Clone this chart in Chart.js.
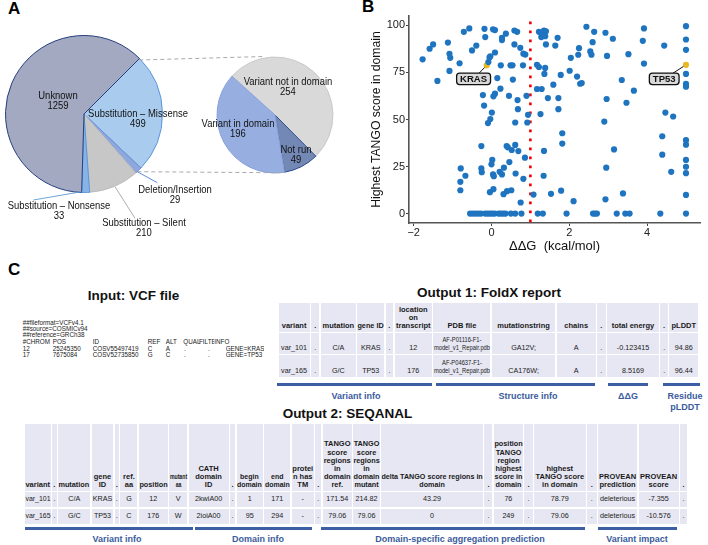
<!DOCTYPE html>
<html><head><meta charset="utf-8">
<script src="https://cdn.jsdelivr.net/npm/chart.js@4.4.1/dist/chart.umd.min.js"></script>
<style>
html,body{margin:0;padding:0;background:#fff;}
body{width:708px;height:545px;position:relative;overflow:hidden;font-family:"Liberation Sans",Arial,sans-serif;color:#111;}
.box{position:absolute;}
.plab{position:absolute;transform:translate(-50%,-50%) scaleX(0.9);text-align:center;white-space:nowrap;font-size:10.5px;line-height:10px;color:#111;}
.letter{position:absolute;font-weight:bold;font-size:17px;line-height:17px;color:#000;}
.title{position:absolute;transform:translateX(-50%);font-weight:bold;font-size:13.5px;line-height:13px;white-space:nowrap;color:#111;}
.grid{position:absolute;display:grid;}
.cell{background:#e6e7f2;display:flex;align-items:flex-end;justify-content:center;text-align:center;font-size:7.2px;line-height:8.2px;color:#222;white-space:nowrap;box-sizing:border-box;padding-bottom:1.5px;}
.cell .in{display:block;flex-shrink:0;white-space:nowrap;transform-origin:50% 50%;}
.hcell{font-weight:bold;font-size:7.5px;line-height:8.1px;color:#1a1a1a;}
.sq .dcell{padding-bottom:3.5px;}
.bar{position:absolute;height:3px;background:#3c5fa3;}
.glab{position:absolute;transform:translateX(-50%);font-weight:bold;font-size:9px;line-height:11px;color:#3b5c9c;text-align:center;white-space:nowrap;}
.vcf{position:absolute;font-size:6.3px;line-height:6.5px;color:#1a1a1a;white-space:nowrap;}
</style></head>
<body>
<div class="letter" style="left:8px;top:-0.5px;">A</div>
<div class="letter" style="left:362px;top:-2px;">B</div>
<div class="letter" style="left:8px;top:261px;">C</div>

<div class="box" style="left:0;top:30px;width:168px;height:168px;"><canvas id="pieMain"></canvas></div>
<div class="box" style="left:211px;top:51px;width:128px;height:128px;"><canvas id="pieSub"></canvas></div>
<svg class="box" style="left:0;top:0;" width="350" height="260">
  <line x1="139.3" y1="60" x2="264" y2="56.5" stroke="#a9a9a9" stroke-width="1" stroke-dasharray="4,3"/>
  <line x1="137.3" y1="171.7" x2="283.3" y2="172.8" stroke="#a9a9a9" stroke-width="1" stroke-dasharray="4,3"/>
  <line x1="137.3" y1="171.7" x2="157.3" y2="182.7" stroke="#4a7fd0" stroke-width="0.9"/>
  <line x1="81.7" y1="191.7" x2="33.3" y2="200" stroke="#5b9bd5" stroke-width="0.9"/>
  <line x1="115" y1="186.7" x2="135" y2="218.3" stroke="#a6a6a6" stroke-width="0.9"/>
</svg>
<div id="pieLabels"></div>

<div class="box" style="left:350px;top:0;width:358px;height:262px;"><canvas id="scatter"></canvas></div>

<div class="title" style="left:133.5px;top:289px;">Input: VCF file</div>
<div class="title" style="left:489px;top:286.3px;">Output 1: FoldX report</div>
<div class="title" style="left:347.5px;top:407px;">Output 2: SEQANAL</div>
<div id="vcf"></div>
<div id="foldx" class="grid"></div>
<div id="seqanal" class="grid sq"></div>
<div id="groups"></div>

<script>
// ---------------- DATA ----------------
// Panel A: mutation types (main pie) and missense breakdown (sub pie)
const mutationTypes = ['Substitution – Missense', 'Deletion/Insertion', 'Substitution – Silent', 'Substitution – Nonsense', 'Unknown'];
const mutationCounts = [499, 29, 210, 33, 1259];
const missenseGroups = ['Variant not in domain', 'Not run', 'Variant in domain'];
const missenseCounts = [254, 49, 196];

// Panel B: ΔΔG (kcal/mol, capped at 5) vs highest TANGO score in domain
const ddG = [
  -1.77, -1.59, -1.5, -1.39, -1.12, -1.08, -1.06, -1.08, -0.82, -0.71, -0.57, -0.39, -0.5, -0.18, -0.16,
  -0.08, -0.05, -0.03, 0.04, 0.09, 0.09, 0.15, 0.24, 0.27, 0.27, 0.23, 0.37, 0.49, 0.54, 0.55,
  0.59, 0.66, 0.59, 0.74, 0.82, 0.87, 0.81, 0.45, 0.67, 0.9, 0.68, -0.22, -0.19, 0.09, 0.05,
  0.01, -0.03, -0.09, 0.61, 0.92, 0.94, -0.26, 0.39, 0.42, 0.52, 0.61, 0.69, 0.86, 0.02, 0,
  0.46, 0.32, 0.21, 0.27, 0.04, 0.06, -0.25, -0.26, -0.79, -0.67, -0.8, -0.8, 0.62, 0.82, -0.04,
  0.05, 0.31, 0.4, 0.51, 0.75,
  -0.55, -0.48, -0.41, -0.34, -0.27, -0.16, -0.1, -0.04, 0.02, 0.08, 0.18, 0.24, 0.3, 0.36, 0.5,
  0.61, 0.77, 1.19, 1.32, 1.93, 2.61, 2.66, 2.71, 3.22, 3.44, 3.55, 4.34, 5,
  1.08, 1.53, 1.79, 2.11, 2.93, 3.38, 5, 1.34, 2.95, 4.62, 5, 5, 5,
  1.35, 3.15, 4.39, 4.39, 5, 5, 1.82, 1.82, 2.9, 4.47, 4.67, 1.26,
  1.72, 1.45, 1.72, 2.96, 3.47, 1.17, 1.29, 1.59, 3.66,
  2.28, 2.32, 3.35, 2.2, 1.78, 2.01, 1.36, 1.38, 1.17, 1.22, 3.92,
  2.04, 2.23, 2.25, 2.54, 2.57, 2.97, 3.52, 1.4, 1.64, 1.7, 2.6, 3.12, 3.89, 4.44,
  1.22, 1.28, 1.35, 1.4, 1.29, 1.38, 2.44, 2.64, 2.93, 3.92,
  5, 5, 5, 5, 5, 5, 5
];
const tango = [
  82, 87.6, 89.9, 70.5, 90.9, 84.9, 82.8, 75.8, 79.9, 96.6, 98.4, 89.3, 86.7, 98.2, 93.8,
  80.5, 83, 83.6, 97.9, 97.5, 85.6, 72, 78.8, 93.4, 92.2, 66.4, 95.6, 78.8, 78.8, 71.2,
  97.3, 96.6, 89.9, 88.1, 85, 84.5, 78.8, 62.6, 60.3, 62.6, 55.5, 63, 57.4, 63.7, 62.3,
  53.7, 50.2, 48.1, 48.4, 48.4, 52.5, 35.9, 35.9, 35.2, 33.8, 36.5, 33.2, 29.7, 28.5, 26.2,
  27.4, 24.4, 22.2, 20.8, 20.8, 19.9, 22, 24, 24, 20.1, 16.9, 12.4, 21.3, 18.5, 11.4,
  13, 10.3, 11.9, 12.4, 5.9,
  0, 0, 0, 0, 0, 0, 0, 0, 0, 0, 0, 0, 0, 0, 0,
  0, 0, 0, 0, 0, 0, 0, 0, 0, 0, 0, 0, 0,
  10.1, 10.5, 12.2, 6.6, 7.6, 10.7, 9.9, 20.1, 24.4, 22.2, 21.5, 24.9, 28.5,
  33.3, 34.1, 31.3, 41.1, 36.6, 39, 42.7, 37.2, 48.9, 53.7, 51.6, 52.9,
  55.5, 61.4, 61.4, 60.9, 58.9, 66.2, 66.2, 68.5, 65.3,
  69, 69.4, 71, 72.8, 73.7, 75.9, 74.2, 77.4, 79.1, 77.9, 79.7,
  82.8, 84.4, 87.9, 86.2, 84.4, 83.8, 84.7, 89.9, 89.3, 93.4, 91.1, 92.9, 91.8, 89.3,
  96.6, 93.8, 97.3, 96.9, 95.6, 94.3, 99.3, 96.6, 96.1, 98.4,
  99.6, 92.5, 87, 74.2, 69, 67.9, 67.4
];
const highlightGenes = ['KRAS', 'TP53'];
const highlightDdG = [-0.123415, 5];      // TP53 (8.5169) shown at the cap of 5
const highlightTango = [78.79, 79.06];
const labelDdG = [-0.46, 4.44];           // label anchors in data units
const labelTango = [71.6, 71.6];
const thresholdDdG = 1;
const xTickValues = [-2, 0, 2, 4];
const yTickValues = [0, 25, 50, 75, 100];

// Panel C: VCF and tables
const vcfMeta = ['##fileformat=VCFv4.1', '##source=COSMICv94', '##reference=GRCh38'];
const vcfHeader = ['#CHROM', 'POS', 'ID', 'REF', 'ALT', 'QUAL', 'FILTER', 'INFO'];
const vcfRows = [
  ['12', '25245350', 'COSV55497419', 'C', 'A', '.', '.', 'GENE=KRAS_'],
  ['17', '7675084', 'COSV52735850', 'G', 'C', '.', '.', 'GENE=TP53_']
];
const foldxHeaders = ['variant', '.', 'mutation', 'gene ID', '.', 'location\non\ntranscript', 'PDB file', 'mutationstring', 'chains', '.', 'total energy', '.', 'pLDDT'];
const foldxRows = [
  ['var_101', '.', 'C/A', 'KRAS', '.', '12', 'AF-P01116-F1-\nmodel_v1_Repair.pdb', 'GA12V;', 'A', '.', '-0.123415', '.', '94.86'],
  ['var_165', '.', 'G/C', 'TP53', '.', '176', 'AF-P04637-F1-\nmodel_v1_Repair.pdb', 'CA176W;', 'A', '.', '8.5169', '.', '96.44']
];
const foldxGroups = ['Variant info', 'Structure info', 'ΔΔG', 'Residue\npLDDT'];
const seqHeaders = ['variant', '.', 'mutation', 'gene\nID', '.', 'ref.\naa', 'position', 'mutant\naa', 'CATH\ndomain\nID', '.', 'begin\ndomain', 'end\ndomain', 'protei\nn has\nTM', '.',
  'TANGO\nscore\nregions\nin\ndomain\nref.', 'TANGO\nscore\nregions\nin\ndomain\nmutant', 'delta TANGO score regions in\ndomain', '.',
  'position\nTANGO\nregion\nhighest\nscore in\ndomain', '.', 'highest\nTANGO score\nin domain', '.', 'PROVEAN\nprediction', 'PROVEAN\nscore', '.'];
const seqRows = [
  ['var_101', '.', 'C/A', 'KRAS', '.', 'G', '12', 'V', '2kwiA00', '.', '1', '171', '-', '.', '171.54', '214.82', '43.29', '.', '76', '.', '78.79', '.', 'deleterious', '-7.355', '.'],
  ['var_165', '.', 'G/C', 'TP53', '.', 'C', '176', 'W', '2ioiA00', '.', '95', '294', '-', '.', '79.06', '79.06', '0', '.', '249', '.', '79.06', '.', 'deleterious', '-10.576', '.']
];
const seqGroups = ['Variant info', 'Domain info', 'Domain-specific aggregation prediction', 'Variant impact'];

// ---------------- LAYOUT (positions / styles) ----------------
const pieLabelPos = { // centre of each label block
  'Unknown': [57.5, 99.8], 'Substitution – Missense': [138, 117.8], 'Deletion/Insertion': [175, 194.1],
  'Substitution – Nonsense': [59.4, 209.5], 'Substitution – Silent': [144, 227],
  'Variant not in domain': [287.5, 85.8], 'Variant in domain': [238, 127.8], 'Not run': [295.6, 153.7]
};
const vcfX = [22.7, 52.7, 92.7, 147.7, 165.7, 183.3, 199, 214.3];
const vcfRowX = [22.7, 52.7, 92.7, 147.7, 165.7, 184, 208, 225.7];
const vcfLineY = [319.5, 325.8, 332.1, 338.8, 345.5, 351.8];
const foldxCols = [31, 8.5, 35, 27, 7.5, 37.5, 57, 63.5, 39, 8.5, 52, 7.5, 29];
const seqCols = [25.5, 5, 32, 21.6, 4.4, 17, 29, 18, 40, 5.2, 26.4, 26, 22, 6.2, 29, 26.6, 102, 8, 29, 8.4, 51.5, 9.6, 39.3, 40, 7];
const foldxBars = [[276.7, 431.7, 356], [436, 595, 528], [608, 648, 628], [663, 699.5, 685]];
const seqBars = [[25, 192.7, 117], [195, 311.7, 258], [321, 585, 460], [598, 676.7, 637]];

Chart.defaults.font.family = '"Liberation Sans", Arial, sans-serif';
Chart.defaults.animation = false;

// ---------------- PANEL A ----------------
new Chart(document.getElementById('pieMain'), {
  type: 'pie',
  data: { labels: mutationTypes, datasets: [{
    data: mutationCounts,
    backgroundColor: ['#a9ccee', '#8ea8de', '#c7c7c7', '#86b4e6', '#a2a9c1'],
    borderColor: ['#5b96d8', '#6d8fd4', '#bcbcbc', '#5b96d8', '#253f80'],
    borderWidth: 1 }] },
  options: { responsive: true, maintainAspectRatio: false, rotation: 45, radius: 78.5,
    layout: { padding: 0 }, plugins: { legend: { display: false }, tooltip: { enabled: false } } }
});
new Chart(document.getElementById('pieSub'), {
  type: 'pie',
  data: { labels: missenseGroups, datasets: [{
    data: missenseCounts,
    backgroundColor: ['#d9d9d9', '#7488b6', '#97aee0'],
    borderColor: ['#c9c9c9', '#2d4a8a', '#88a2dc'],
    borderWidth: 1 }] },
  options: { responsive: true, maintainAspectRatio: false, rotation: -48, radius: 58,
    layout: { padding: 0 }, plugins: { legend: { display: false }, tooltip: { enabled: false } } }
});
(function () {
  const host = document.getElementById('pieLabels');
  const add = (name, value) => {
    const p = pieLabelPos[name];
    const d = document.createElement('div');
    d.className = 'plab';
    d.style.left = p[0] + 'px'; d.style.top = p[1] + 'px';
    d.innerHTML = name + '<br>' + value;
    host.appendChild(d);
  };
  mutationTypes.forEach((n, i) => add(n, mutationCounts[i]));
  missenseGroups.forEach((n, i) => add(n, missenseCounts[i]));
})();

// ---------------- PANEL B ----------------
const refLine = {
  id: 'refLine',
  beforeDatasetsDraw(chart) {
    const { ctx, chartArea: a, scales: { x, y } } = chart;
    const px = x.getPixelForValue(thresholdDdG);
    ctx.save();
    ctx.strokeStyle = '#f00000'; ctx.lineWidth = 2.6; ctx.setLineDash([2.7, 6.3]);
    ctx.beginPath(); ctx.moveTo(px, a.top + 5.5); ctx.lineTo(px, a.bottom + 2); ctx.stroke();
    ctx.setLineDash([]); ctx.strokeStyle = '#111'; ctx.lineWidth = 1;
    highlightGenes.forEach((g, i) => {
      ctx.beginPath();
      ctx.moveTo(x.getPixelForValue(highlightDdG[i]), y.getPixelForValue(highlightTango[i]));
      ctx.lineTo(x.getPixelForValue(labelDdG[i]), y.getPixelForValue(labelTango[i]));
      ctx.stroke();
    });
    ctx.restore();
  },
  afterDatasetsDraw(chart) {
    const { ctx, scales: { x, y } } = chart;
    ctx.save();
    ctx.font = 'bold 9.5px "Liberation Sans", Arial, sans-serif';
    ctx.textAlign = 'center'; ctx.textBaseline = 'middle';
    highlightGenes.forEach((g, i) => {
      const lx = x.getPixelForValue(labelDdG[i]), ly = y.getPixelForValue(labelTango[i]);
      const w = ctx.measureText(g).width + 7, h = 11.5;
      ctx.beginPath();
      ctx.roundRect(lx - w / 2, ly - h / 2, w, h, 3);
      ctx.fillStyle = '#d9d9d9'; ctx.fill();
      ctx.strokeStyle = '#111'; ctx.lineWidth = 1.3; ctx.stroke();
      ctx.fillStyle = '#111'; ctx.fillText(g, lx, ly + 0.5);
    });
    ctx.restore();
  }
};
new Chart(document.getElementById('scatter'), {
  type: 'scatter',
  data: { datasets: [
    { data: ddG.map((v, i) => ({ x: v, y: tango[i] })), backgroundColor: '#1f74c0', borderWidth: 0, pointRadius: 3.1 },
    { data: highlightDdG.map((v, i) => ({ x: v, y: highlightTango[i] })), backgroundColor: '#e9b824', borderWidth: 0, pointRadius: 3.1 }
  ] },
  options: {
    responsive: true, maintainAspectRatio: false,
    layout: { padding: { top: 16, right: 8, left: 0, bottom: 0 } },
    plugins: { legend: { display: false }, tooltip: { enabled: false } },
    scales: {
      x: { type: 'linear', min: -2.12, max: 5.36,
        afterBuildTicks: s => { s.ticks = xTickValues.map(v => ({ value: v })); },
        afterFit: s => { s.height = 39; },
        grid: { drawOnChartArea: false, drawTicks: true, tickLength: 3, color: '#444', lineWidth: 1 },
        border: { display: true, color: '#555', width: 1.6 },
        ticks: { font: { size: 11 }, color: '#222', padding: 0, callback: v => (v < 0 ? '\u2212' + Math.abs(v) : String(v)) },
        title: { display: true, text: 'ΔΔG  (kcal/mol)', font: { size: 13 }, color: '#111', padding: { top: 0, bottom: 8 } } },
      y: { type: 'linear', min: -5, max: 105,
        afterBuildTicks: s => { s.ticks = yTickValues.map(v => ({ value: v })); },
        afterFit: s => { s.width = 59; },
        grid: { drawOnChartArea: false, drawTicks: true, tickLength: 3, color: '#444', lineWidth: 1 },
        border: { display: true, color: '#555', width: 1.6 },
        ticks: { font: { size: 11 }, color: '#222', padding: 1 },
        title: { display: true, text: 'Highest TANGO score in domain', font: { size: 12.2 }, color: '#111', padding: { top: 19, bottom: 0 } } }
    }
  },
  plugins: [refLine]
});

// ---------------- PANEL C ----------------
(function () {
  const host = document.getElementById('vcf');
  const put = (txt, x, y, clipW) => {
    const s = document.createElement('div');
    s.className = 'vcf'; s.textContent = txt;
    s.style.left = x + 'px'; s.style.top = y + 'px';
    if (clipW) { s.style.width = clipW + 'px'; s.style.overflow = 'hidden'; }
    host.appendChild(s);
  };
  vcfMeta.forEach((t, i) => put(t, vcfX[0], vcfLineY[i]));
  vcfHeader.forEach((t, j) => put(t, vcfX[j], vcfLineY[3], t === 'FILTER' ? 14.8 : 0));
  vcfRows.forEach((r, i) => r.forEach((t, j) => put(t, vcfRowX[j], vcfLineY[4 + i], j === 7 ? 38 : 0)));
})();

function addCell(parent, text, cls) {
  const d = document.createElement('div'); d.className = cls;
  const s = document.createElement('span'); s.className = 'in';
  text.split('\n').forEach((t, i) => { if (i) s.appendChild(document.createElement('br')); s.appendChild(document.createTextNode(t)); });
  d.appendChild(s); parent.appendChild(d);
}
function buildGrid(id, left, top, cols, rowsH, colGap, rowGap, headers, rows) {
  const el = document.getElementById(id);
  el.style.left = left + 'px'; el.style.top = top + 'px';
  el.style.gridTemplateColumns = cols.map(w => w + 'px').join(' ');
  el.style.gridTemplateRows = rowsH.map(h => h + 'px').join(' ');
  el.style.columnGap = colGap + 'px'; el.style.rowGap = rowGap + 'px';
  headers.forEach(h => addCell(el, h, 'cell hcell'));
  rows.forEach(r => r.forEach(v => addCell(el, v, 'cell dcell')));
  el.querySelectorAll('.cell').forEach(c => {
    const s = c.firstChild, cw = c.clientWidth - 0.8, sw = s.offsetWidth;
    if (sw > cw) s.style.transform = 'scaleX(' + (cw / sw).toFixed(3) + ')';
  });
}
buildGrid('foldx', 278.6, 303.3, foldxCols, [28.4, 21.3, 21.7], 1.4, 1.2, foldxHeaders, foldxRows);
buildGrid('seqanal', 25, 423.5, seqCols, [67, 15.3, 15.3], 1.4, 1.4, seqHeaders, seqRows);

(function () {
  const host = document.getElementById('groups');
  const draw = (bars, names, barTop, labTop) => bars.forEach((b, i) => {
    const bar = document.createElement('div'); bar.className = 'bar';
    bar.style.left = b[0] + 'px'; bar.style.width = (b[1] - b[0]) + 'px'; bar.style.top = barTop + 'px';
    host.appendChild(bar);
    const l = document.createElement('div'); l.className = 'glab';
    l.style.left = b[2] + 'px'; l.style.top = labTop + 'px';
    l.innerHTML = names[i].replace('\n', '<br>');
    host.appendChild(l);
  });
  draw(foldxBars, foldxGroups, 382.5, 390.5);
  draw(seqBars, seqGroups, 527, 534);
})();
</script>
</body></html>
